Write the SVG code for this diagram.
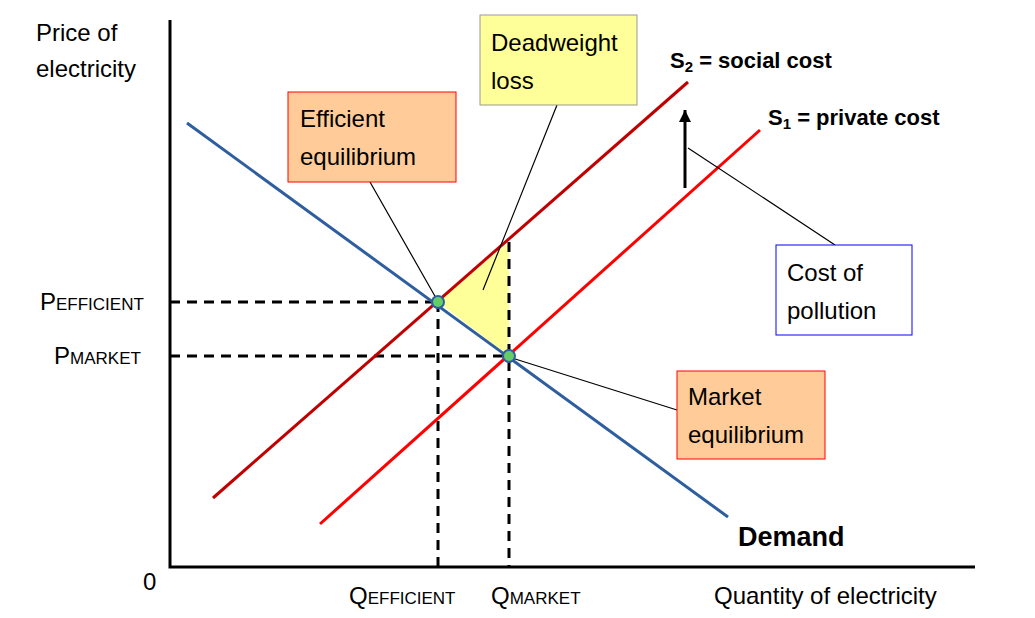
<svg xmlns="http://www.w3.org/2000/svg" width="1035" height="618" viewBox="0 0 1035 618">
<style>
text{font-family:"Liberation Sans",Arial,sans-serif;fill:#000}
.t{font-size:24px}
.b{font-size:22px;font-weight:bold}
.d{stroke:#000;stroke-width:3;stroke-dasharray:10,7;fill:none}
.l{stroke:#000;stroke-width:1.2;fill:none}
.box{stroke-width:1}
.pt{fill:#66CC66;stroke:#2E5E9E;stroke-width:2}
</style>
<defs><marker id="ah" markerWidth="8" markerHeight="8" refX="4" refY="7" orient="auto" markerUnits="userSpaceOnUse" viewBox="0 0 8 8"><path d="M0,8 L4,0 L8,8 Z" fill="#000"/></marker>
<marker id="ah2" viewBox="0 0 10 10" refX="5" refY="0" markerWidth="12" markerHeight="12" markerUnits="userSpaceOnUse"><path d="M0,10 L5,0 L10,10 Z" fill="#000"/></marker></defs>
<rect width="1035" height="618" fill="#fff"/>
<g id="axes"><path d="M170,20 V567 H975" stroke="#000" stroke-width="3" fill="none"/></g>
<g id="dwl"><polygon points="438,302 509,242 509,356" fill="#FFFF99"/></g>
<g id="connectors">
<path class="d" d="M170,302 H438 M170,356 H509 M438,302 V567 M509,242 V567"/>
<line x1="187" y1="123" x2="728" y2="517" stroke="#2E5E9E" stroke-width="3"/>
<line x1="213" y1="498" x2="688" y2="82" stroke="#C00000" stroke-width="3"/>
<line x1="320" y1="524" x2="760" y2="130" stroke="#FF0000" stroke-width="3"/>
<line x1="685" y1="188" x2="685" y2="110" stroke="#000" stroke-width="3" marker-end="url(#ah2)"/>
<path class="l" d="M370,182 L436,298 M557,105 L483,290 M835,245 L688,148 M677,410 L512,358"/>
</g>
<g id="points"><circle class="pt" cx="438" cy="302" r="6"/><circle class="pt" cx="509" cy="356" r="6"/></g>
<g id="efficient"><rect class="box" x="288" y="92" width="168" height="90" fill="#FFCC99" stroke="#FF0000"/><text class="t" x="300" y="127">Efficient</text><text class="t" x="300" y="165">equilibrium</text></g>
<g id="deadweight"><rect class="box" x="480" y="15" width="157" height="90" fill="#FFFF99" stroke="#999"/><text class="t" x="491" y="51">Deadweight</text><text class="t" x="491" y="89">loss</text></g>
<g id="pollution"><rect class="box" x="776" y="245" width="136" height="90" fill="#fff" stroke="#0000FF"/><text class="t" x="787" y="281">Cost of</text><text class="t" x="787" y="319">pollution</text></g>
<g id="market"><rect class="box" x="677" y="371" width="148" height="88" fill="#FFCC99" stroke="#FF0000"/><text class="t" x="688" y="405">Market</text><text class="t" x="688" y="443">equilibrium</text></g>
<g id="labels">
<text class="t" x="36" y="41">Price of</text><text class="t" x="36" y="77">electricity</text>
<text class="t" x="714" y="604">Quantity of electricity</text>
<text class="t" x="143" y="590">0</text>
<text class="t" x="40" y="310">P<tspan font-size="17">EFFICIENT</tspan></text>
<text class="t" x="54" y="364">P<tspan font-size="17">MARKET</tspan></text>
<text class="t" x="349" y="604">Q<tspan font-size="17">EFFICIENT</tspan></text>
<text class="t" x="491" y="604">Q<tspan font-size="17">MARKET</tspan></text>
<text class="b" x="670" y="68">S<tspan font-size="15" dy="4">2</tspan><tspan dy="-4"> = social cost</tspan></text>
<text class="b" x="768" y="125">S<tspan font-size="15" dy="4">1</tspan><tspan dy="-4"> = private cost</tspan></text>
<text x="738" y="546" font-size="27" font-weight="bold">Demand</text>
</g>
</svg>
